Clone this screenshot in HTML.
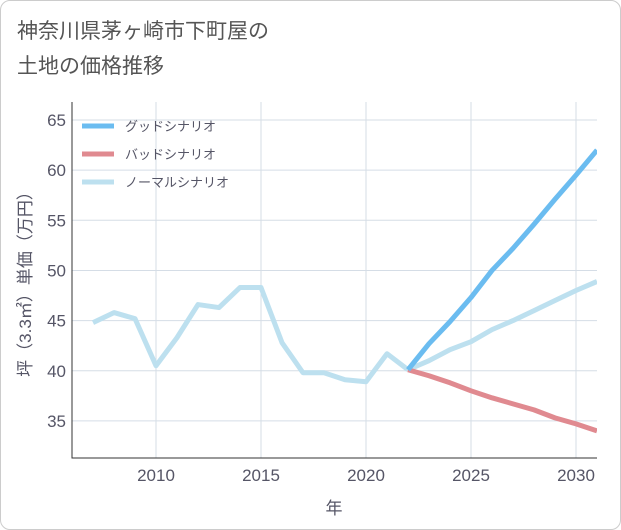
<!DOCTYPE html>
<html><head><meta charset="utf-8"><style>
body{margin:0;background:#fff;}
#wrap{position:relative;width:621px;height:530px;font-family:"Liberation Sans","Noto Sans CJK JP",sans-serif;}
#card{position:absolute;left:0;top:0;width:619px;height:528px;border:1px solid #ccc;border-radius:10px;background:#fff;}
#title{position:absolute;left:17px;top:14px;font-size:21px;line-height:35px;color:#555;}
</style></head><body>
<div id="wrap">
<div id="card"></div>
<div id="title">神奈川県茅ヶ崎市下町屋の<br>土地の価格推移</div>
<svg id="svg" width="621" height="530" style="position:absolute;left:0;top:0"></svg>
</div>
<script>
const years=[2007,2008,2009,2010,2011,2012,2013,2014,2015,2016,2017,2018,2019,2020,2021,2022];
const history=[44.8,45.8,45.2,40.5,43.3,46.6,46.3,48.3,48.3,42.8,39.8,39.8,39.1,38.9,41.7,40.1];
const futureYears=[2022,2023,2024,2025,2026,2027,2028,2029,2030,2031];
const good=[40.1,42.7,44.9,47.3,50.0,52.2,54.6,57.1,59.5,62.0];
const bad=[40.1,39.5,38.8,38.0,37.3,36.7,36.1,35.3,34.7,34.0];
const normal=[40.1,41.0,42.1,42.9,44.1,45.0,46.0,47.0,48.0,48.9];
const xTicks=[2010,2015,2020,2025,2030];
const yTicks=[35,40,45,50,55,60,65];
const legendLabels=["グッドシナリオ","バッドシナリオ","ノーマルシナリオ"];
const colors=["#6bbcf0","#e08a90","#bde0ef"];

const NS="http://www.w3.org/2000/svg";
const svg=document.getElementById('svg');
const L=72,R=597,T=102,B=458;
const x=v=>156+(v-2010)*21;
const y=v=>120+(65-v)*10.03;
function mk(t,a){const e=document.createElementNS(NS,t);for(const k in a)e.setAttribute(k,a[k]);svg.appendChild(e);return e;}
yTicks.forEach(v=>{
 const g=mk('line',{x1:L,x2:R,y1:y(v),y2:y(v),stroke:'#d5dde6','stroke-width':1});
 
 
 const t=mk('text',{x:L-6,y:y(v)+6,'text-anchor':'end','font-size':17,fill:'#556'});t.textContent=v;
 
 
});
xTicks.forEach(v=>{
 const g=mk('line',{x1:x(v),x2:x(v),y1:T,y2:B,stroke:'#d5dde6','stroke-width':1});
 
 
 const t=mk('text',{x:x(v),y:B+23,'text-anchor':'middle','font-size':17,fill:'#556'});t.textContent=v;
 
 
});
const ax=mk('path',{d:`M${L} ${T}V${B}H${R}`,fill:'none',stroke:'#333','stroke-width':1});


const xt=mk('text',{x:334,y:514,'text-anchor':'middle','font-size':17,fill:'#556'});xt.textContent='年';


const yt=mk('text',{x:0,y:0,'text-anchor':'middle','font-size':17,fill:'#556',transform:`translate(31,${(T+B)/2}) rotate(-90)`});yt.textContent='坪（3.3㎡）単価（万円）';


const cp=mk('clipPath',{id:'c'});const cr=document.createElementNS(NS,'rect');cr.setAttribute('x',L);cr.setAttribute('y',T);cr.setAttribute('width',R-L);cr.setAttribute('height',B-T);cp.appendChild(cr);
function line(xs,vs,c,n){const p=mk('polyline',{points:xs.map((v,i)=>x(v)+','+y(vs[i])).join(' '),fill:'none',stroke:c,'stroke-width':5,'stroke-linejoin':'round','clip-path':'url(#c)'});
 
 }
line(years,history,colors[2],'history-line');
line(futureYears,normal,colors[2],'normal-scenario-line');
line(futureYears,bad,colors[1],'bad-scenario-line');
line(futureYears,good,colors[0],'good-scenario-line');
legendLabels.forEach((s,i)=>{
 const ly=126+i*28;
 const l=mk('line',{x1:82,x2:114,y1:ly,y2:ly,stroke:colors[i],'stroke-width':5});
 
 
 const t=mk('text',{x:125,y:ly+5,'font-size':13,fill:'#556'});t.textContent=s;
 
 
});
</script>
</body></html>
